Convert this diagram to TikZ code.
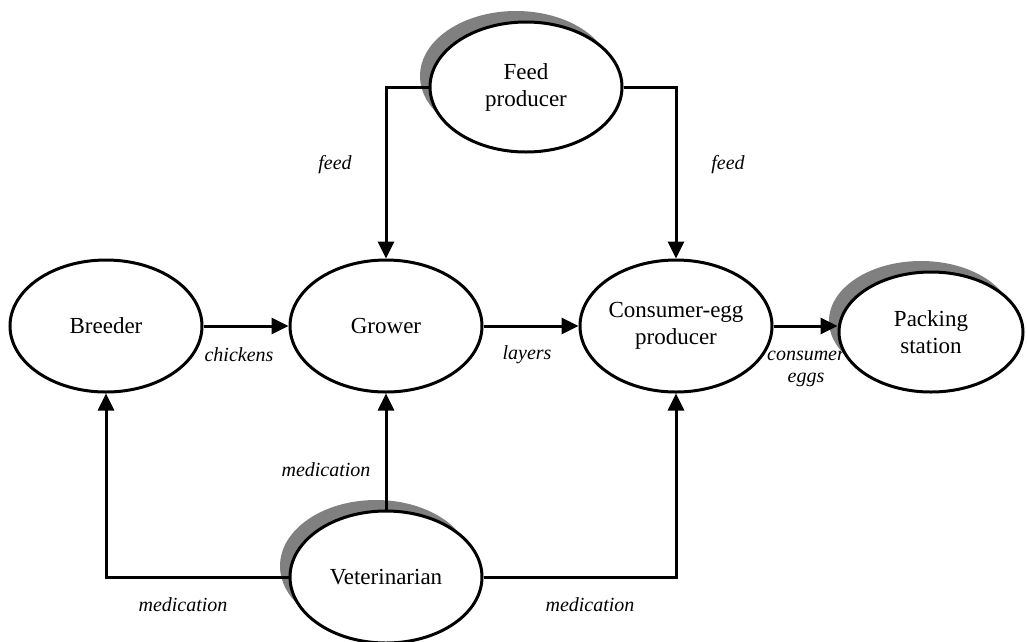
\documentclass[tikz,border=0pt]{standalone}
\usepackage{fontspec}
\setmainfont{Liberation Serif}
\usetikzlibrary{arrows.meta,shapes.geometric,shadows}
\definecolor{shadowgray}{HTML}{808080}

\tikzset{
  actor/.style={ellipse, draw=black, line width=3pt, fill=white,
    minimum width=192pt, minimum height=132pt, inner sep=0pt, align=center,
    font=\fontsize{23}{27}\selectfont},
  shadowed/.style={drop shadow={shadow xshift=-10pt, shadow yshift=11pt,
    fill=shadowgray, opacity=1}},
  flow/.style={line width=3pt, -{Triangle[length=17pt,width=16pt]}},
  link/.style={line width=3pt},
  tag/.style={font=\fontsize{20}{22}\selectfont\itshape, align=center, inner sep=0pt}
}

\begin{document}
\begin{tikzpicture}[x=1pt,y=-1pt]
  \useasboundingbox (0,0) rectangle (1027,641);

  % actors
  \node[actor] (breeder)  at (106,326) {Breeder};
  \node[actor] (grower)   at (386,326) {Grower};
  \node[actor] (consumer) at (676,326) {Consumer-egg\\producer};
  \node[actor, shadowed, minimum width=184pt, minimum height=120pt] (packing) at (931,332) {Packing\\station};
  \node[actor, shadowed, minimum height=130pt] (feed) at (526,87) {Feed\\producer};
  \node[actor, shadowed] (vet) at (386,577) {Veterinarian};

  % product flows
  \draw[flow] (breeder.east) -- (grower.west);
  \draw[flow] (grower.east) -- (consumer.west);
  \draw[flow] (consumer.east) -- (consumer.east -| packing.west);
  \draw[flow] (feed.west) -| (grower.north);
  \draw[flow] (feed.east) -| (consumer.north);
  \draw[flow] (vet.north) -- (grower.south);
  \draw[flow] (vet.west) -| (breeder.south);
  \draw[flow] (vet.east) -| (consumer.south);

  % flow labels
  \node[tag] (lchick) at (239,355) {chickens};
  \node[tag] (llay)   at (527,355) {layers};
  \node[tag] (leggs)  at (806,369) {consumer\\eggs};
  \node[tag] (lfeedl) at (335,165) {feed};
  \node[tag] (lfeedr) at (728,165) {feed};
  \node[tag] (lmedg)  at (326,470) {medication};
  \node[tag] (lmedb)  at (183,605) {medication};
  \node[tag] (lmedc)  at (590,605) {medication};
\end{tikzpicture}
\end{document}
